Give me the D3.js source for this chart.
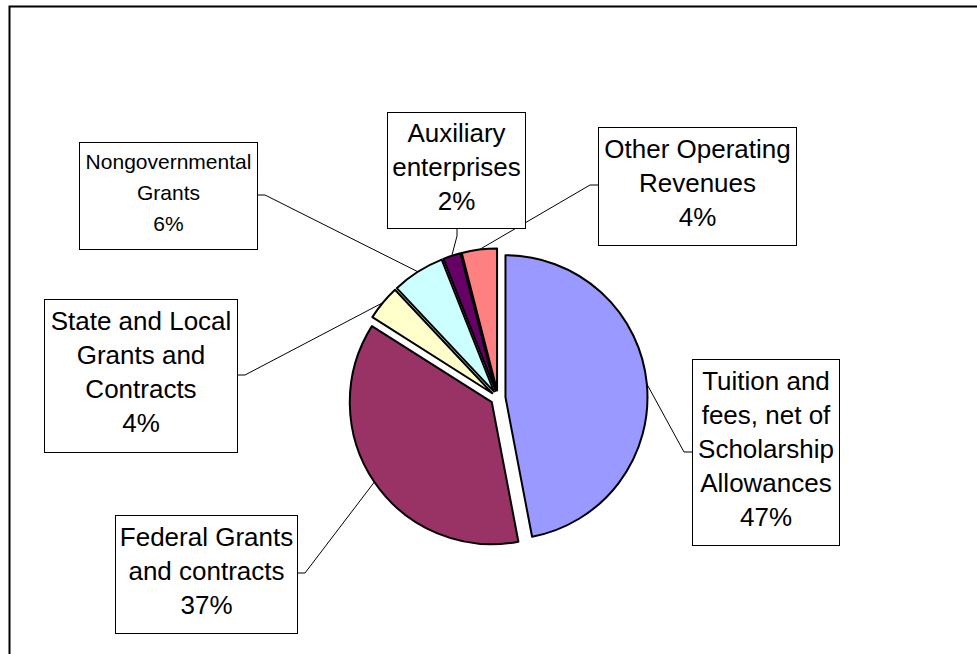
<!DOCTYPE html>
<html>
<head>
<meta charset="utf-8">
<script src="https://cdn.jsdelivr.net/npm/d3@7"></script>
<style>
  html, body { margin: 0; padding: 0; background: #fff; }
  svg { display: block; }
  .box-label { font-family: "Liberation Sans", Arial, sans-serif; fill: #000; }
</style>
</head>
<body>
<div id="chart"></div>
<script>
// --- data ---
const categories = [
  "Tuition and fees, net of Scholarship Allowances",
  "Federal Grants and contracts",
  "State and Local Grants and Contracts",
  "Nongovernmental Grants",
  "Auxiliary enterprises",
  "Other Operating Revenues"
];
const shares = [47, 37, 4, 6, 2, 4];
const labelLines = [
  ["Tuition and", "fees, net of", "Scholarship", "Allowances"],
  ["Federal Grants", "and contracts"],
  ["State and Local", "Grants and", "Contracts"],
  ["Nongovernmental", "Grants"],
  ["Auxiliary", "enterprises"],
  ["Other Operating", "Revenues"]
];
const sliceColors = ["#9999FF", "#993366", "#FFFFCC", "#CCFFFF", "#660066", "#FF8080"];

// --- layout (label boxes) ---
// side = where the leader line leaves the box, at = y (or x for bottom)
const boxes = [
  { x: 692, y: 359, w: 147, h: 186, side: "left",   at: 452, font: 26, lh: 34 },
  { x: 115, y: 515, w: 182, h: 118, side: "right",  at: 573, font: 26, lh: 34 },
  { x: 44,  y: 299, w: 193, h: 153, side: "right",  at: 375, font: 26, lh: 34 },
  { x: 79,  y: 142, w: 178, h: 107, side: "right",  at: 195, font: 21, lh: 31 },
  { x: 387, y: 112, w: 138, h: 116, side: "bottom", at: 457, font: 26, lh: 34 },
  { x: 598, y: 127, w: 198, h: 118, side: "left",   at: 185, font: 26, lh: 34 }
];

const width = 977, height = 654;
const cx = 498, cy = 398, radius = 142, explode = 7.5, stub = 8;

const svg = d3.select("#chart")
  .append("svg")
  .attr("width", width)
  .attr("height", height);

// outer chart border (right and bottom edges fall outside the picture)
svg.append("rect")
  .attr("x", 9.5).attr("y", 6.5)
  .attr("width", 1000).attr("height", 700)
  .attr("fill", "none")
  .attr("stroke", "#000")
  .attr("stroke-width", 2);

const pie = d3.pie().sort(null).value(d => d);
const arcs = pie(shares);
const arc = d3.arc().innerRadius(0).outerRadius(radius);

const mid = d => (d.startAngle + d.endAngle) / 2;
const offset = d => [cx + explode * Math.sin(mid(d)), cy - explode * Math.cos(mid(d))];

// --- slices ---
const slices = svg.append("g").attr("class", "slices");
slices.selectAll("path")
  .data(arcs)
  .enter().append("path")
  .attr("transform", d => `translate(${offset(d)[0]}, ${offset(d)[1]})`)
  .attr("d", arc)
  .attr("fill", (d, i) => sliceColors[i])
  .attr("stroke", "#000")
  .attr("stroke-width", 2)
  .attr("stroke-linejoin", "round");

// --- leader lines ---
const leaders = svg.append("g").attr("class", "leaders");
arcs.forEach((d, i) => {
  const b = boxes[i];
  const o = offset(d);
  const p0 = [o[0] + radius * Math.sin(mid(d)), o[1] - radius * Math.cos(mid(d))];
  let p1, p2;
  if (b.side === "left") { p2 = [b.x, b.at]; p1 = [b.x - stub, b.at]; }
  else if (b.side === "right") { p2 = [b.x + b.w, b.at]; p1 = [b.x + b.w + stub, b.at]; }
  else { p2 = [b.at, b.y + b.h]; p1 = [b.at, b.y + b.h + stub]; }
  leaders.append("path")
    .attr("d", d3.line()([p0, p1, p2]))
    .attr("fill", "none")
    .attr("stroke", "#000")
    .attr("stroke-width", 1);
});

// --- label boxes ---
const labels = svg.append("g").attr("class", "labels");
const pct = d3.format(".0%");
boxes.forEach((b, i) => {
  const g = labels.append("g");
  g.append("rect")
    .attr("x", b.x + 0.5).attr("y", b.y + 0.5)
    .attr("width", b.w).attr("height", b.h)
    .attr("fill", "#fff")
    .attr("stroke", "#000")
    .attr("stroke-width", 1);
  const lines = labelLines[i].concat([pct(shares[i] / d3.sum(shares))]);
  const n = lines.length;
  const centerY = b.y + b.h / 2;
  const first = centerY - (n - 1) / 2 * b.lh + b.font * 0.23;
  g.selectAll("text")
    .data(lines)
    .enter().append("text")
    .attr("class", "box-label")
    .attr("x", b.x + b.w / 2 + 0.5)
    .attr("y", (t, j) => first + j * b.lh)
    .attr("text-anchor", "middle")
    .style("font-size", b.font + "px")
    .text(t => t);
});
</script>
</body>
</html>
